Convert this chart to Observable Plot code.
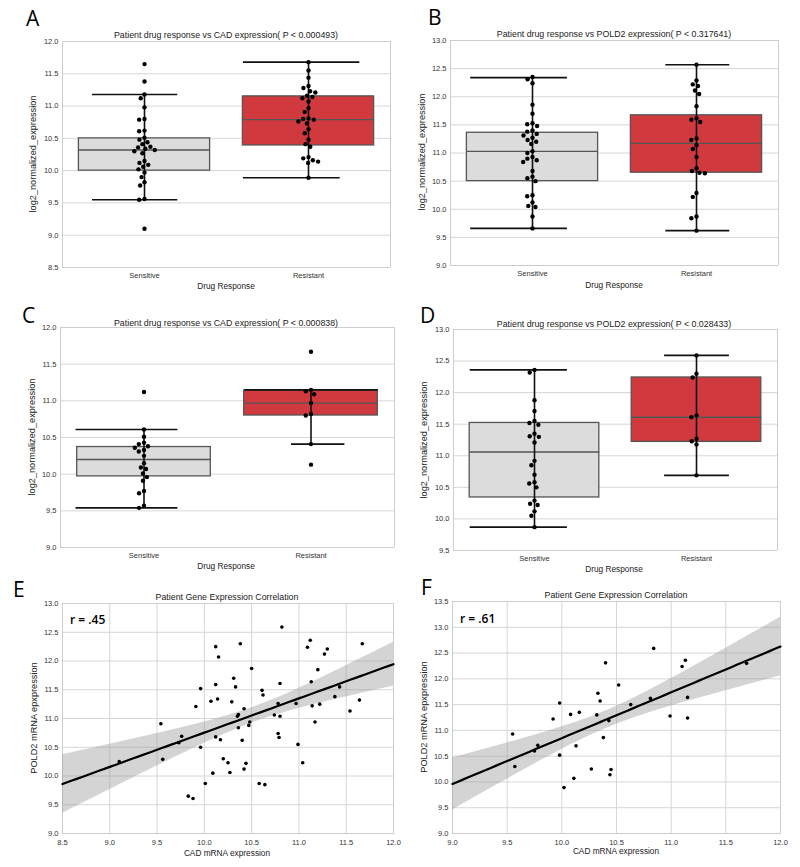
<!DOCTYPE html>
<html><head><meta charset="utf-8">
<script src="https://cdn.jsdelivr.net/npm/d3@7"></script>
<script src="https://cdn.jsdelivr.net/npm/@observablehq/plot@0.6"></script>
<style>
body{margin:0;background:#fff;}
#fig{position:relative;width:800px;height:867px;overflow:hidden;background:#fff;}
#fig svg{position:absolute;left:0;top:0;}
</style></head><body><div id="fig"></div>
<script>
// ---------- data ----------
const groups = ["Sensitive", "Resistant"];

// Panel A: CAD expression
const aSensitive = [11.65, 11.38, 11.18, 11.12, 10.98, 10.80, 10.79, 10.62, 10.61, 10.51, 10.48, 10.44, 10.41, 10.37, 10.36, 10.34, 10.32, 10.30, 10.27, 10.15, 10.12, 10.09, 10.06, 10.02, 9.97, 9.90, 9.82, 9.77, 9.56, 9.55, 9.10];
const aResistant = [11.68, 11.55, 11.44, 11.31, 11.28, 11.23, 11.21, 11.16, 11.14, 11.12, 11.07, 10.97, 10.91, 10.81, 10.80, 10.79, 10.76, 10.73, 10.64, 10.58, 10.48, 10.41, 10.37, 10.21, 10.19, 10.16, 10.14, 10.12, 9.89];
const aQ1 = [10.00, 10.39], aMed = [10.32, 10.79], aQ3 = [10.50, 11.15], aLo = [9.55, 9.89], aHi = [11.18, 11.68];

// Panel B: POLD2 expression
const bSensitive = [12.35, 12.31, 12.24, 11.86, 11.70, 11.53, 11.51, 11.48, 11.40, 11.38, 11.34, 11.31, 11.27, 11.23, 11.20, 11.16, 11.03, 11.00, 10.93, 10.90, 10.87, 10.84, 10.68, 10.58, 10.55, 10.50, 10.25, 10.23, 10.12, 10.06, 10.04, 9.87, 9.66];
const bResistant = [12.57, 12.29, 12.22, 12.19, 12.11, 12.05, 11.83, 11.62, 11.59, 11.55, 11.26, 11.23, 11.14, 11.07, 10.93, 10.73, 10.68, 10.65, 10.64, 10.29, 10.22, 9.87, 9.84, 9.62];
const bQ1 = [10.50, 10.65], bMed = [11.03, 11.17], bQ3 = [11.36, 11.67], bLo = [9.66, 9.62], bHi = [12.34, 12.57];

// Panel C: CAD expression
const cSensitive = [11.12, 10.61, 10.51, 10.43, 10.41, 10.38, 10.36, 10.33, 10.31, 10.25, 10.15, 10.09, 10.07, 10.01, 9.96, 9.91, 9.77, 9.74, 9.57, 9.54];
const cResistant = [11.67, 11.15, 11.13, 11.09, 10.97, 10.82, 10.80, 10.41, 10.13];
const cQ1 = [9.97, 10.80], cMed = [10.20, 10.97], cQ3 = [10.37, 11.14], cLo = [9.54, 10.41], cHi = [10.61, 11.15];

// Panel D: POLD2 expression
const dSensitive = [12.36, 12.32, 11.88, 11.71, 11.55, 11.52, 11.49, 11.35, 11.31, 11.30, 11.21, 10.92, 10.85, 10.70, 10.58, 10.56, 10.50, 10.29, 10.24, 10.22, 10.12, 10.05, 9.87];
const dResistant = [12.59, 12.30, 12.24, 11.64, 11.61, 11.27, 11.23, 11.18, 10.69];
const dQ1 = [10.34, 11.22], dMed = [11.06, 11.61], dQ3 = [11.52, 12.24], dLo = [9.87, 10.69], dHi = [12.36, 12.59];

// Panel E: CAD vs POLD2
const eX = [9.10, 9.54, 9.56, 9.73, 9.76, 9.83, 9.88, 9.91, 9.96, 9.96, 10.01, 10.07, 10.09, 10.12, 10.12, 10.12, 10.14, 10.15, 10.17, 10.20, 10.25, 10.27, 10.29, 10.31, 10.33, 10.35, 10.36, 10.36, 10.38, 10.40, 10.42, 10.42, 10.44, 10.47, 10.48, 10.50, 10.61, 10.62, 10.58, 10.64, 10.74, 10.78, 10.78, 10.79, 10.80, 10.80, 10.82, 10.97, 10.99, 11.04, 11.09, 11.12, 11.13, 11.14, 11.17, 11.20, 11.22, 11.27, 11.30, 11.38, 11.43, 11.54, 11.64, 11.67];
const eY = [10.25, 10.91, 10.29, 10.58, 10.69, 9.65, 9.61, 11.21, 11.52, 10.50, 9.87, 11.30, 10.05, 12.25, 11.59, 10.68, 11.34, 12.07, 10.63, 10.30, 10.23, 10.06, 11.29, 11.70, 11.55, 11.04, 11.07, 10.84, 12.30, 10.62, 11.17, 10.12, 10.22, 10.88, 10.94, 11.87, 11.49, 11.41, 9.87, 9.85, 11.06, 11.26, 10.74, 10.67, 11.61, 11.04, 12.59, 11.26, 10.55, 10.23, 12.24, 12.36, 11.64, 11.22, 10.94, 11.85, 11.25, 12.12, 12.21, 11.38, 11.55, 11.13, 11.32, 12.30];

// Panel F: CAD vs POLD2
const fX = [9.55, 9.57, 9.75, 9.78, 9.92, 9.98, 9.98, 10.02, 10.08, 10.11, 10.13, 10.16, 10.27, 10.32, 10.33, 10.35, 10.40, 10.38, 10.43, 10.44, 10.45, 10.52, 10.63, 10.81, 10.84, 10.99, 11.10, 11.13, 11.15, 11.15, 11.69];
const fY = [10.93, 10.30, 10.60, 10.71, 11.22, 11.53, 10.52, 9.89, 11.31, 10.07, 10.70, 11.35, 10.25, 11.30, 11.72, 11.57, 12.31, 10.86, 11.19, 10.14, 10.24, 11.88, 11.50, 11.62, 12.59, 11.28, 12.24, 12.36, 11.64, 11.24, 12.30];

// tick values
const ticksA = [8.5, 9.0, 9.5, 10.0, 10.5, 11.0, 11.5, 12.0];
const ticksB = [9.0, 9.5, 10.0, 10.5, 11.0, 11.5, 12.0, 12.5, 13.0];
const ticksC = [9.0, 9.5, 10.0, 10.5, 11.0, 11.5, 12.0];
const ticksD = [9.5, 10.0, 10.5, 11.0, 11.5, 12.0, 12.5, 13.0];
const ticksEX = [8.5, 9.0, 9.5, 10.0, 10.5, 11.0, 11.5, 12.0];
const ticksEY = [9.0, 9.5, 10.0, 10.5, 11.0, 11.5, 12.0, 12.5, 13.0];
const ticksFX = [9.0, 9.5, 10.0, 10.5, 11.0, 11.5, 12.0];
const ticksFY = [9.0, 9.5, 10.0, 10.5, 11.0, 11.5, 12.0, 12.5, 13.0, 13.5];

// ---------- styles / layout ----------
const W = 800, H = 867;
const FONT = "'Liberation Sans', Arial, Helvetica, sans-serif";
const GRID = "#d6d6d6", FRAME = "#cdcdcd";
const boxFill = ["#dcdcdc", "#d03a3e"];
const fig = document.getElementById("fig");
const fmt = d3.format(".1f");

function boxPanel(p) {
  const pts = [
    ...p.sens.map(v => ({group: groups[0], value: v})),
    ...p.res.map(v => ({group: groups[1], value: v}))
  ];
  const boxes = groups.map((g, i) => ({group: g, q1: p.q1[i], med: p.med[i], q3: p.q3[i], lo: p.lo[i], hi: p.hi[i], fill: boxFill[i]}));
  const caps = [];
  boxes.forEach((b, i) => {
    const c = p.caps[i];
    caps.push({group: b.group, y: b.lo, x1: c[0], x2: c[1]});
    caps.push({group: b.group, y: b.hi, x1: c[2], x2: c[3]});
  });
  const edges = [{group: groups[0], x: -0.5}, {group: groups[1], x: 0.5}];
  const [L, T, R, B] = p.frame;
  const half = 0.4;
  const plot = Plot.plot({
    width: W, height: H,
    marginLeft: L, marginTop: T, marginRight: W - R, marginBottom: H - B,
    style: {background: "transparent", fontFamily: FONT, fontSize: "7.5px", color: "#333", overflow: "visible"},
    fx: {domain: groups, padding: 0},
    x: {domain: [-0.5, 0.5], axis: null},
    y: {domain: [p.ticks[0], p.ticks[p.ticks.length - 1]]},
    marks: [
      Plot.gridY(p.ticks, {stroke: GRID, strokeOpacity: 1, strokeWidth: 1}),
      Plot.ruleY([p.ticks[0], p.ticks[p.ticks.length - 1]], {stroke: FRAME, strokeWidth: 1}),
      Plot.ruleX(edges, {fx: "group", x: "x", stroke: FRAME, strokeWidth: 1}),
      Plot.rect(boxes, {fx: "group", x1: () => -half, x2: () => half, y1: "q1", y2: "q3", fill: "fill", stroke: "#555", strokeWidth: 1.3}),
      Plot.link(boxes, {fx: "group", x1: () => -half, x2: () => half, y1: "med", y2: "med", stroke: "#555", strokeWidth: 1.3}),
      Plot.link(boxes, {fx: "group", x1: () => 0, x2: () => 0, y1: "lo", y2: "hi", stroke: "#111", strokeWidth: 1.6}),
      Plot.link(caps, {fx: "group", x1: "x1", x2: "x2", y1: "y", y2: "y", stroke: "#111", strokeWidth: 1.6}),
      Plot.dot(pts, Plot.dodgeX("middle", {fx: "group", y: "value", r: 2.2, fill: "#000", stroke: "none", padding: 0.4})),
      Plot.axisY(p.ticks, {tickSize: 0, tickPadding: 4, tickFormat: fmt, label: null, fontSize: 7.5, fill: "#333"}),
      Plot.axisFx({anchor: "bottom", tickSize: 0, tickPadding: 5, label: null, fontSize: 7.5, fill: "#333"})
    ]
  });
  fig.append(plot);
}

function regression(xs, ys, domain, t) {
  const n = xs.length, mx = d3.mean(xs), my = d3.mean(ys);
  const sxx = d3.sum(xs, x => (x - mx) ** 2);
  const sxy = d3.sum(xs, (x, i) => (x - mx) * (ys[i] - my));
  const b = sxy / sxx, a = my - b * mx;
  const s2 = d3.sum(xs, (x, i) => (ys[i] - a - b * x) ** 2) / (n - 2);
  return d3.ticks(domain[0], domain[1], 70).map(x => {
    const yh = a + b * x, se = Math.sqrt(s2 * (1 / n + (x - mx) ** 2 / sxx));
    return {x, y: yh, lo: yh - t * se, hi: yh + t * se};
  });
}

function scatterPanel(p) {
  const pts = p.xs.map((x, i) => ({x, y: p.ys[i]}));
  const xDom = [p.xt[0], p.xt[p.xt.length - 1]];
  const yDom = [p.yt[0], p.yt[p.yt.length - 1]];
  const fit = regression(p.xs, p.ys, xDom, p.t);
  const [L, T, R, B] = p.frame;
  const plot = Plot.plot({
    width: W, height: H,
    marginLeft: L, marginTop: T, marginRight: W - R, marginBottom: H - B,
    style: {background: "transparent", fontFamily: FONT, fontSize: "7.5px", color: "#333", overflow: "visible"},
    x: {domain: xDom},
    y: {domain: yDom},
    marks: [
      Plot.gridX(p.xt, {stroke: GRID, strokeOpacity: 1, strokeWidth: 1}),
      Plot.gridY(p.yt, {stroke: GRID, strokeOpacity: 1, strokeWidth: 1}),
      Plot.frame({stroke: FRAME, strokeWidth: 1}),
      Plot.areaY(fit, {x: "x", y1: "lo", y2: "hi", fill: "#999", fillOpacity: 0.42, clip: true}),
      Plot.line(fit, {x: "x", y: "y", stroke: "#000", strokeWidth: 2.2}),
      Plot.dot(pts, {x: "x", y: "y", r: 1.8, fill: "#000", stroke: "none"}),
      Plot.axisX(p.xt, {tickSize: 0, tickPadding: 6, tickFormat: fmt, label: null, fontSize: 7.5, fill: "#333"}),
      Plot.axisY(p.yt, {tickSize: 0, tickPadding: 4, tickFormat: fmt, label: null, fontSize: 7.5, fill: "#333"})
    ]
  });
  fig.append(plot);
}

boxPanel({sens: aSensitive, res: aResistant, q1: aQ1, med: aMed, q3: aQ3, lo: aLo, hi: aHi, ticks: ticksA,
  frame: [62, 41, 390, 267], caps: [[-0.32, 0.20, -0.32, 0.20], [-0.40, 0.19, -0.40, 0.31]]});
boxPanel({sens: bSensitive, res: bResistant, q1: bQ1, med: bMed, q3: bQ3, lo: bLo, hi: bHi, ticks: ticksB,
  frame: [450, 40, 778, 265], caps: [[-0.38, 0.21, -0.38, 0.21], [-0.19, 0.20, -0.19, 0.20]]});
boxPanel({sens: cSensitive, res: cResistant, q1: cQ1, med: cMed, q3: cQ3, lo: cLo, hi: cHi, ticks: ticksC,
  frame: [59, 327, 394, 547], caps: [[-0.41, 0.20, -0.41, 0.20], [-0.12, 0.20, -0.40, 0.40]]});
boxPanel({sens: dSensitive, res: dResistant, q1: dQ1, med: dMed, q3: dQ3, lo: dLo, hi: dHi, ticks: ticksD,
  frame: [452, 329, 777, 550], caps: [[-0.40, 0.20, -0.40, 0.20], [-0.20, 0.20, -0.20, 0.20]]});
scatterPanel({xs: eX, ys: eY, xt: ticksEX, yt: ticksEY, t: 1.6, frame: [62, 603, 393, 833]});
scatterPanel({xs: fX, ys: fY, xt: ticksFX, yt: ticksFY, t: 1.6, frame: [452, 601, 780, 833]});

// ---------- text overlay ----------
const svg = d3.select(fig).append("svg").attr("width", W).attr("height", H)
  .style("font-family", FONT).style("pointer-events", "none");
const letters = [["A", 26, 26], ["B", 428, 25], ["C", 22, 323], ["D", 420, 323], ["E", 13, 597], ["F", 421, 595]];
letters.forEach(([t, x, y]) => svg.append("text").attr("x", x).attr("y", y)
  .style("font-family", "'Open Sans', sans-serif").style("font-size", "21px").attr("fill", "#000").text(t));
const titles = [
  ["Patient drug response vs CAD expression( P < 0.000493)", 226, 37.5],
  ["Patient drug response vs POLD2 expression( P < 0.317641)", 614, 36.5],
  ["Patient drug response vs CAD expression( P < 0.000838)", 226, 325.5],
  ["Patient drug response vs POLD2 expression( P < 0.028433)", 614, 326.5],
  ["Patient Gene Expression Correlation", 227, 600],
  ["Patient Gene Expression Correlation", 616, 598]
];
titles.forEach(([t, x, y]) => svg.append("text").attr("x", x).attr("y", y).attr("text-anchor", "middle")
  .style("font-size", "8.8px").attr("fill", "#222").text(t));
const xLabels = [
  ["Drug Response", 226, 289], ["Drug Response", 614, 287.5],
  ["Drug Response", 226, 569], ["Drug Response", 614, 571.5],
  ["CAD mRNA expression", 227, 856], ["CAD mRNA expression", 616, 854]
];
xLabels.forEach(([t, x, y]) => svg.append("text").attr("x", x).attr("y", y).attr("text-anchor", "middle")
  .style("font-size", "8.3px").attr("fill", "#222").text(t));
const yLabels = [
  ["log2_normalized_expression", 36, 154], ["log2_normalized_expression", 425, 152],
  ["log2_normalized_expression", 35, 437], ["log2_normalized_expression", 427, 440],
  ["POLD2 mRNA epxpression", 36.5, 718], ["POLD2 mRNA epxpression", 427, 717]
];
yLabels.forEach(([t, x, y]) => svg.append("text").attr("transform", `translate(${x},${y}) rotate(-90)`)
  .attr("text-anchor", "middle").style("font-size", "9.2px").attr("fill", "#222").text(t));
const notes = [["r = .45", 70, 624], ["r = .61", 460, 623]];
notes.forEach(([t, x, y]) => svg.append("text").attr("x", x).attr("y", y)
  .style("font-family", "'Open Sans', sans-serif").style("font-size", "12px").style("font-weight", "600").attr("fill", "#000").text(t));
</script>
</body></html>
